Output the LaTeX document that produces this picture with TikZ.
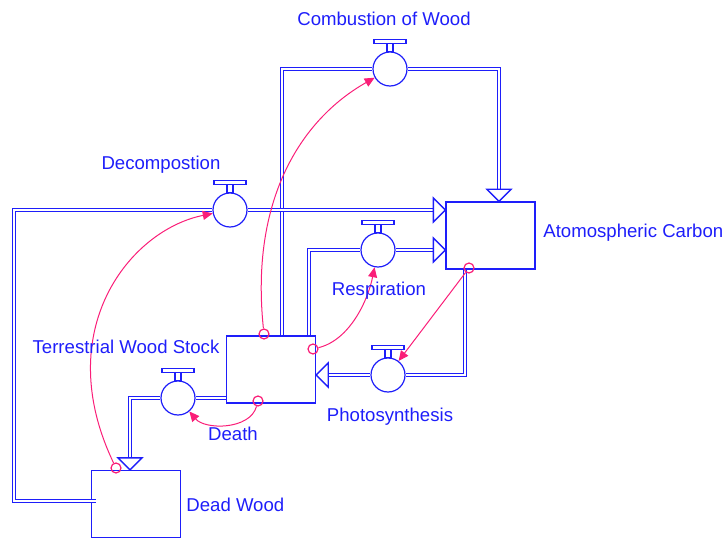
\documentclass[tikz,border=0pt]{standalone}
\usepackage{fontspec}
\setmainfont{Liberation Sans}
\usetikzlibrary{arrows.meta}

\definecolor{flowblue}{RGB}{30,30,250}
\definecolor{linkpink}{RGB}{250,30,120}

\tikzset{
    stock/.style={draw=flowblue,line width=0.65pt,minimum width=44.5pt,minimum height=33.5pt,inner sep=0pt},
    valve/.style={circle,draw=flowblue,line width=0.6pt,fill=white,minimum size=17pt,inner sep=0pt},
    pipe/.style={draw=flowblue,line width=0.7pt,double=white,double distance=0.8pt},
    tap/.style={circle,draw=linkpink,line width=0.6pt,minimum size=5pt,inner sep=0pt},
    link/.style={linkpink,line width=0.5pt,-{Triangle[length=5pt,width=4.5pt]}},
    lbl/.style={text=flowblue,font=\fontsize{9.3}{11}\selectfont,inner sep=0pt,text height=6.7pt,text depth=0pt},
    pics/flowhead/.style={code={
        \draw[flowblue,line width=0.65pt,fill=white] (0,0) -- (-12,-12) -- (-12,12) -- cycle;
    }}
}

\begin{document}
\begin{tikzpicture}[x=0.5pt,y=-0.5pt]
    \useasboundingbox (0,0) rectangle (724,540);

    % stocks
    \node[stock] (atm) at (490.5,235.5) {};
    \node[stock] (wood) at (271,369.5) {};
    \node[stock] (dead) at (136,504) {};

    % valves
    \node[valve] (comb) at (390,69) {};
    \node[valve] (decomp) at (230,210) {};
    \node[valve] (resp) at (378,250) {};
    \node[valve] (photo) at (388,375) {};
    \node[valve] (death) at (178,398) {};

    \foreach \v in {comb,decomp,resp,photo,death}{
        \draw[flowblue,line width=0.6pt,fill=white] ([shift={(-3,-8)}]\v.north) rectangle ([shift={(3,0)}]\v.north);
        \draw[flowblue,line width=0.6pt,fill=white] ([shift={(-16,-12)}]\v.north) rectangle ([shift={(16,-8)}]\v.north);
    }

    % flows
    \draw[pipe] ([shift={(11,0)}]wood.north) |- (comb.west);
    \draw[pipe,shorten >=6pt] (comb.east) -| ([shift={(8.5,0)}]atm.north);
    \draw[pipe] ([shift={(5,-3)}]dead.west) -- ++(-82,0) |- (decomp.west);
    \draw[pipe,shorten >=6pt] (decomp.east) -- (decomp.east -| atm.west);
    \draw[pipe] ([shift={(38,0)}]wood.north) |- (resp.west);
    \draw[pipe,shorten >=6pt] (resp.east) -- (resp.east -| atm.west);
    \draw[pipe] ([shift={(-25.5,0)}]atm.south) |- (photo.east);
    \draw[pipe,shorten >=6pt] (photo.west) -- (photo.west -| wood.east);
    \draw[pipe] (death.east -| wood.west) -- (death.east);
    \draw[pipe,shorten >=6pt] (death.west) -| ([shift={(-6,0)}]dead.north);

    \pic[rotate=-90] at ([shift={(8.5,0)}]atm.north) {flowhead};
    \pic at (decomp.east -| atm.west) {flowhead};
    \pic at (resp.east -| atm.west) {flowhead};
    \pic[rotate=180] at (photo.west -| wood.east) {flowhead};
    \pic[rotate=-90] at ([shift={(-6,0)}]dead.north) {flowhead};

    % connectors
    \node[tap] (woodtop) at (264,334) {};
    \node[tap] (woodright) at (313,349) {};
    \node[tap] (woodbot) at (258,401) {};
    \node[tap] (atmtap) at (469,268) {};
    \node[tap] (deadtap) at (116,468) {};

    \draw[link] (woodtop) .. controls +(-14,-133) and +(-90,51) .. (comb);
    \draw[link] (woodright) .. controls +(37,-9) and +(-10,50) .. (resp);
    \draw[link] (atmtap) -- (photo);
    \draw[link] (woodbot) .. controls +(-8,29) and +(27,32) .. (death);
    \draw[link] (deadtap) .. controls +(-66,-138) and +(-100,20) .. (decomp);

    % labels
    \node[lbl] (comblbl) at (384,19) {Combustion of Wood};
    \node[lbl] (decomplbl) at (161,163) {Decompostion};
    \node[lbl,anchor=west] (atmlbl) at (543,231) {Atomospheric Carbon};
    \node[lbl] (resplbl) at (379,289) {Respiration};
    \node[lbl] (woodlbl) at (126,347) {Terrestrial Wood Stock};
    \node[lbl] (photolbl) at (390,415) {Photosynthesis};
    \node[lbl] (deathlbl) at (233,434) {Death};
    \node[lbl,anchor=west] (deadlbl) at (186,505) {Dead Wood};
\end{tikzpicture}
\end{document}
